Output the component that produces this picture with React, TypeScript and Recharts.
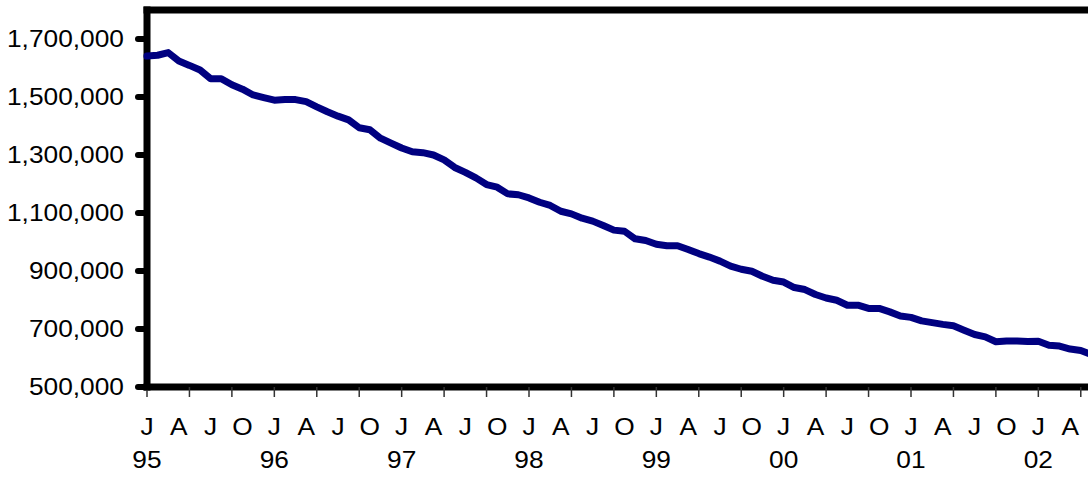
import { LineChart, Line, XAxis, YAxis, ReferenceLine } from 'recharts';

// monthly values, Jan 1995 .. Jun 2002
const values = [
  1641000, 1644000, 1653000, 1624000, 1609000, 1593000, 1563000, 1563000, 1542000, 1527000, 1507000, 1498000,
  1489000, 1491000, 1491000, 1484000, 1466000, 1449000, 1434000, 1421000, 1394000, 1387000, 1358000, 1341000,
  1324000, 1311000, 1308000, 1300000, 1283000, 1257000, 1240000, 1221000, 1198000, 1189000, 1166000, 1163000,
  1152000, 1137000, 1126000, 1106000, 1097000, 1082000, 1072000, 1057000, 1041000, 1037000, 1011000, 1005000,
  992000, 987000, 987000, 974000, 960000, 948000, 934000, 917000, 906000, 899000, 882000, 868000,
  862000, 843000, 836000, 819000, 807000, 799000, 782000, 782000, 771000, 771000, 759000, 745000,
  740000, 728000, 722000, 716000, 711000, 696000, 681000, 673000, 656000, 659000, 659000, 657000,
  658000, 644000, 641000, 631000, 626000, 612000,
];

const quarterLabels = ['J', 'A', 'J', 'O'];
const yearLabels = ['95', '96', '97', '98', '99', '00', '01', '02'];
const yTicks = [500000, 700000, 900000, 1100000, 1300000, 1500000, 1700000];

const data = values.map((v, i) => ({ m: i, value: v }));
const xTicks = values.map((_, i) => i);

const FONT = '"Liberation Sans", Arial, sans-serif';
const STRETCH = 1.12;

// y tick: thick round stub left of the axis plus the number
function YTick(props: any) {
  const { x, y, payload } = props;
  return (
    <g>
      <line x1={x - 9} x2={x} y1={y} y2={y} stroke="#000" strokeWidth={6} strokeLinecap="round" />
      <g transform={`translate(${x - 23},${y}) scale(${STRETCH},1)`}>
        <text x={0} y={0} dy="0.36em" textAnchor="end" fontSize={23.5} fontFamily={FONT} fill="#000">
          {Number(payload.value).toLocaleString('en-US')}
        </text>
      </g>
    </g>
  );
}

// x tick: thin stub every 4 months, letter every quarter, year every january
function XTick(props: any) {
  const { x, y, payload } = props;
  const m = payload.value as number;
  return (
    <g>
      {m % 4 === 0 && <line x1={x} x2={x} y1={y} y2={y + 10} stroke="#333" strokeWidth={1.5} />}
      {m % 3 === 0 && (
        <g transform={`translate(${x},${y + 48}) scale(${STRETCH},1)`}>
          <text x={0} y={0} textAnchor="middle" fontSize={23.5} fontFamily={FONT} fill="#000">
            {quarterLabels[(m / 3) % 4]}
          </text>
        </g>
      )}
      {m % 12 === 0 && (
        <g transform={`translate(${x},${y + 81}) scale(${STRETCH},1)`}>
          <text x={0} y={0} textAnchor="middle" fontSize={23.5} fontFamily={FONT} fill="#000">
            {yearLabels[m / 12]}
          </text>
        </g>
      )}
    </g>
  );
}

export default function App() {
  return (
    <div style={{ position: 'absolute', left: 0, top: 0, width: 1088, height: 477, overflow: 'hidden', background: '#fff' }}>
      <LineChart width={1110} height={477} data={data} margin={{ top: 10, right: 8, bottom: 0, left: 0 }}>
        <XAxis
          dataKey="m"
          type="number"
          domain={[0, 90]}
          ticks={xTicks}
          interval={0}
          height={90}
          tickSize={0}
          tickMargin={0}
          tickLine={false}
          axisLine={false}
          tick={(p: any) => <XTick {...p} />}
        />
        <YAxis
          type="number"
          domain={[500000, 1800000]}
          ticks={yTicks}
          interval={0}
          width={147}
          tickSize={0}
          tickMargin={0}
          tickLine={false}
          axisLine={false}
          tick={(p: any) => <YTick {...p} />}
        />
        <ReferenceLine y={1800000} stroke="#000" strokeWidth={7} strokeLinecap="square" ifOverflow="visible" />
        <ReferenceLine y={500000} stroke="#000" strokeWidth={7} strokeLinecap="square" ifOverflow="visible" />
        <ReferenceLine x={0} stroke="#000" strokeWidth={7} strokeLinecap="square" ifOverflow="visible" />
        <Line
          type="linear"
          dataKey="value"
          stroke="#000080"
          strokeWidth={7}
          strokeLinejoin="round"
          strokeLinecap="round"
          dot={false}
          isAnimationActive={false}
        />
      </LineChart>
    </div>
  );
}
